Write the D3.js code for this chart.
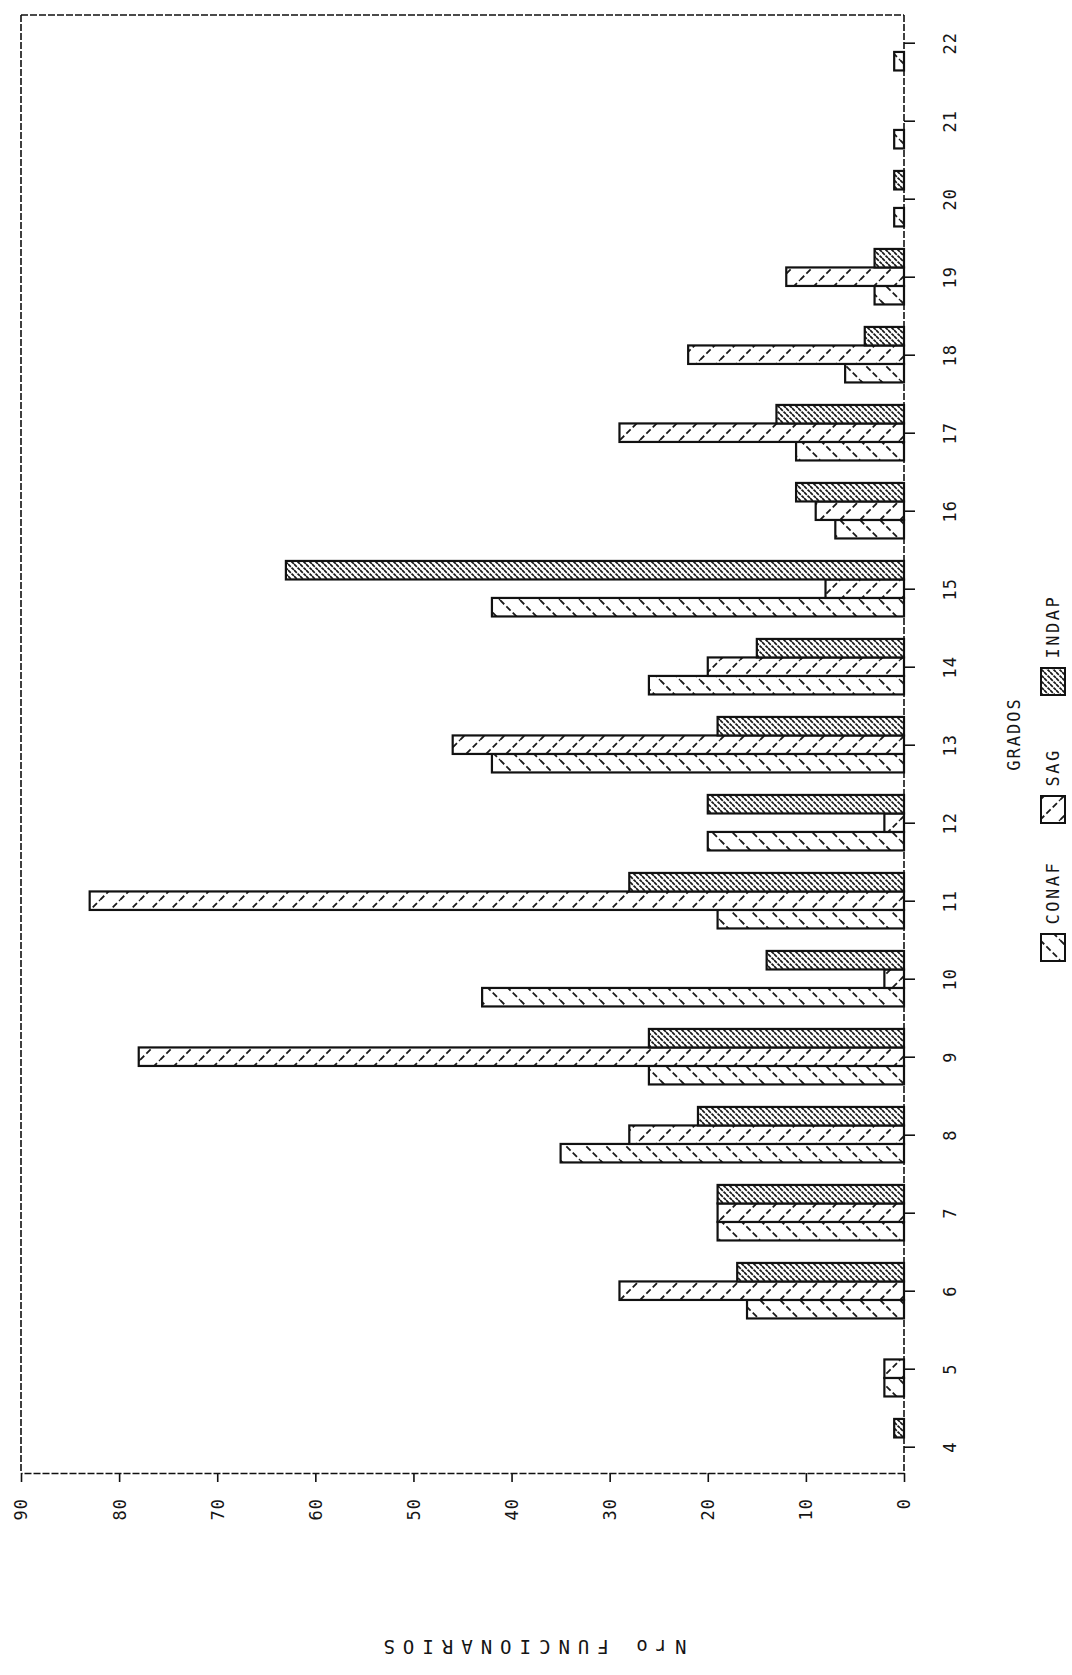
<!DOCTYPE html>
<html><head><meta charset="utf-8">
<script src="https://cdn.jsdelivr.net/npm/d3@7"></script>
<style>
body{margin:0;background:#fff}
svg{display:block}
text{font-family:"DejaVu Sans Mono",monospace;fill:#151515}
</style>
</head><body>
<svg id="c" width="1072" height="1675"></svg>
<script>
// ---- data ----
const categories = [4,5,6,7,8,9,10,11,12,13,14,15,16,17,18,19,20,21,22];
const conaf = [0,2,16,19,35,26,43,19,20,42,26,42,7,11,6,3,1,1,1];
const sag   = [0,2,29,19,28,78,2,83,2,46,20,8,9,29,22,12,0,0,0];
const indap = [1,0,17,19,21,26,14,28,20,19,15,63,11,13,4,3,1,0,0];
const seriesNames = ["CONAF","SAG","INDAP"];
const valueTicks = [0,10,20,30,40,50,60,70,80,90];
const valueTitle = "Nro FUNCIONARIOS";
const categoryTitle = "GRADOS";

const svg = d3.select("#c");
const defs = svg.append("defs");

function hatch(id, s, dir, sw, dash) {
  const p = defs.append("pattern").attr("id", id)
    .attr("patternUnits", "userSpaceOnUse")
    .attr("width", s).attr("height", s);
  p.append("rect").attr("width", s).attr("height", s).attr("fill", "#fff");
  const pts = dir === "\\" ? [[0,0,s,s],[-s,0,0,s],[0,-s,s,0]] : [[0,s,s,0],[-s,s,0,0],[0,2*s,s,s]];
  pts.forEach(q => p.append("line")
    .attr("x1", q[0]).attr("y1", q[1]).attr("x2", q[2]).attr("y2", q[3])
    .attr("stroke", "#1a1a1a").attr("stroke-width", sw)
    .attr("stroke-dasharray", dash));
}
hatch("pCONAF", 20, "\\", 1.8, "6 3");
hatch("pSAG", 20, "/", 1.8, "6 3");
hatch("pINDAP", 6, "\\", 1.7, "4 1");

// ---- scales (chart is drawn rotated: values run right-to-left, categories bottom-to-top) ----
const x = d3.scaleLinear().domain([0, 90]).range([904, 21]);
const y = d3.scalePoint().domain(categories).range([1446.7, 42.7]);
const barH = 18.5;
const series = [
  {name: "CONAF", values: conaf, off: barH / 2},
  {name: "SAG", values: sag, off: -barH / 2},
  {name: "INDAP", values: indap, off: -barH * 1.5}
];

const frameTop = 15, frameBottom = 1473;

// frame
const frame = svg.append("g").attr("stroke", "#111").attr("stroke-width", 1.6)
  .attr("stroke-dasharray", "7 2").attr("fill", "none");
frame.append("line").attr("x1", x(90)).attr("x2", x(0)).attr("y1", frameTop).attr("y2", frameTop);
frame.append("line").attr("x1", x(90)).attr("x2", x(90)).attr("y1", frameTop).attr("y2", frameBottom);

// bars
series.forEach(s => {
  svg.append("g").selectAll("rect")
    .data(categories.map((c, i) => ({c, v: s.values[i]})).filter(d => d.v > 0))
    .join("rect")
    .attr("x", d => x(d.v))
    .attr("y", d => y(d.c) + s.off)
    .attr("width", d => x(0) - x(d.v))
    .attr("height", barH)
    .attr("fill", `url(#p${s.name})`)
    .attr("stroke", "#111").attr("stroke-width", 2.2);
});

// value axis (bottom of page)
const ax = svg.append("g").attr("transform", `translate(0,${frameBottom})`)
  .call(d3.axisBottom(x).tickValues(valueTicks).tickSize(9).tickSizeOuter(0));
ax.select(".domain").attr("stroke", "#111").attr("stroke-width", 1.6).attr("stroke-dasharray", "7 2");
ax.selectAll(".tick line").attr("stroke", "#111").attr("stroke-width", 1.6);
ax.selectAll(".tick text")
  .attr("transform", "rotate(-90)")
  .attr("x", -25).attr("y", 0).attr("dy", "0.35em")
  .attr("text-anchor", "end")
  .style("font-size", "17px").style("letter-spacing", "1px")
  .style("font-family", "DejaVu Sans Mono").attr("fill", "#151515");

// category axis (right of page)
const cy = svg.append("g").attr("transform", `translate(${x(0)},0)`)
  .call(d3.axisRight(y).tickSize(11).tickSizeOuter(0));
cy.select(".domain").attr("d", `M0,${frameTop}V${frameBottom}`)
  .attr("stroke", "#111").attr("stroke-width", 1.6).attr("stroke-dasharray", "7 2");
cy.selectAll(".tick line").attr("stroke", "#111").attr("stroke-width", 1.6);
cy.selectAll(".tick text")
  .attr("transform", "rotate(-90)")
  .attr("x", 0).attr("y", 46).attr("dy", "0.35em")
  .attr("text-anchor", "middle")
  .style("font-size", "17px").style("letter-spacing", "1px")
  .style("font-family", "DejaVu Sans Mono").attr("fill", "#151515");

// titles
svg.append("text").attr("transform", "translate(531,1647) rotate(180)")
  .attr("text-anchor", "middle").attr("dy", "0.35em")
  .style("font-size", "19px").style("letter-spacing", "8px")
  .text(valueTitle);
svg.append("text").attr("transform", "translate(1014,734) rotate(-90)")
  .attr("text-anchor", "middle").attr("dy", "0.35em")
  .style("font-size", "17px").style("letter-spacing", "2px")
  .text(categoryTitle);

// legend
const legendY = {CONAF: 947.5, SAG: 809.5, INDAP: 681.5};
const legend = svg.append("g");
seriesNames.forEach(n => {
  const cyy = legendY[n];
  legend.append("rect").attr("x", 1041).attr("y", cyy - 13.5).attr("width", 24).attr("height", 27)
    .attr("fill", `url(#p${n})`).attr("stroke", "#111").attr("stroke-width", 2);
  legend.append("text").attr("transform", `translate(1053,${cyy - 23}) rotate(-90)`)
    .attr("text-anchor", "start").attr("dy", "0.35em")
    .style("font-size", "17px").style("letter-spacing", "2.5px")
    .text(n);
});
</script>
</body></html>
